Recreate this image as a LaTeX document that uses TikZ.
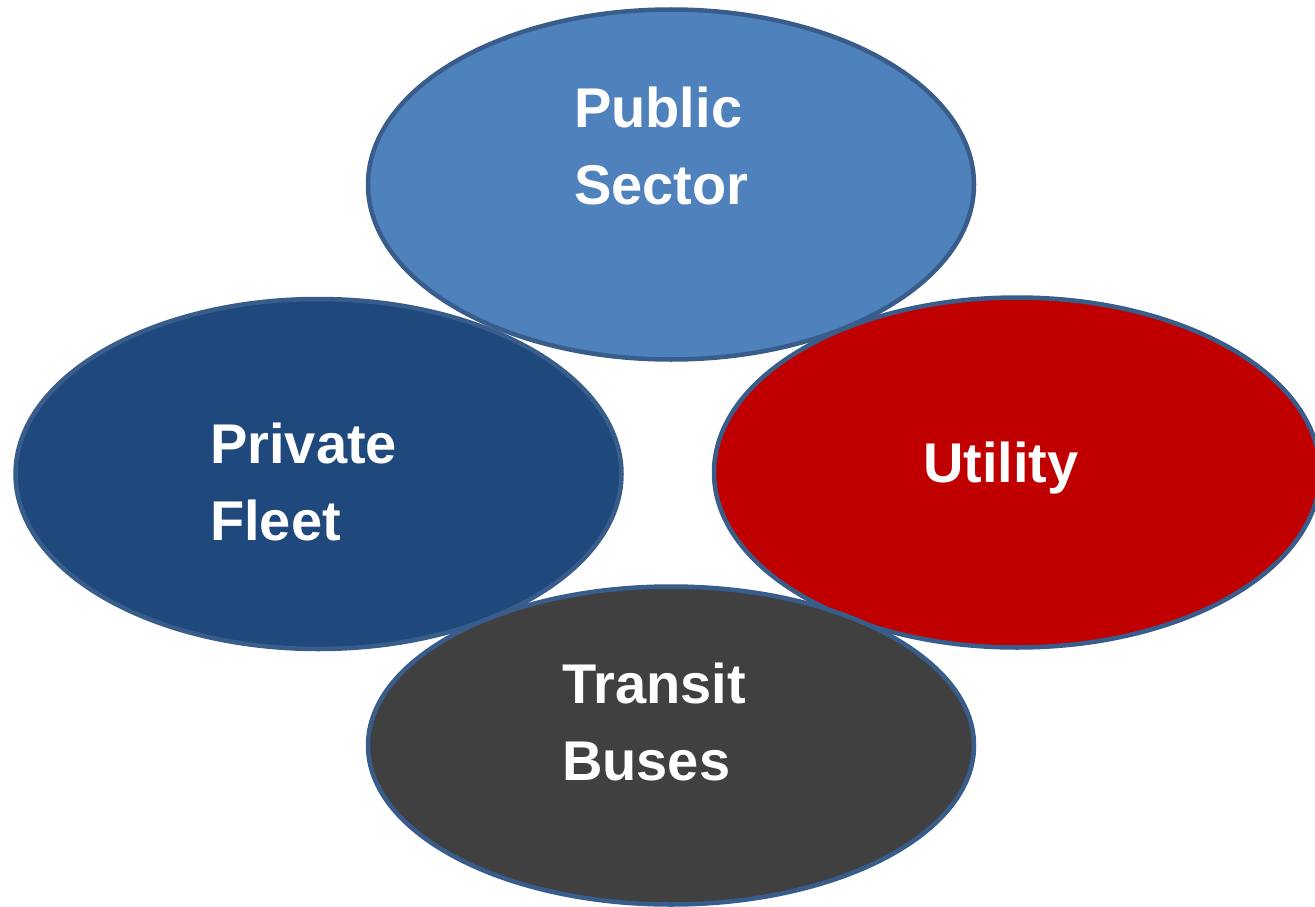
\documentclass[tikz,border=0pt]{standalone}
\usepackage{fontspec}
\setmainfont{Liberation Sans}
\usetikzlibrary{shapes.geometric}
\definecolor{pubblue}{HTML}{4F81BD}
\definecolor{privblue}{HTML}{1F497D}
\definecolor{utilred}{HTML}{C00000}
\definecolor{busgrey}{HTML}{404040}
\definecolor{rimblue}{HTML}{385D8A}
\tikzset{
  blob/.style={ellipse, draw=rimblue, line width=4.5pt, inner sep=0pt},
  lbl/.style={anchor=north west, inner sep=0pt, align=left, text=white,
    font=\bfseries\fontsize{56}{77}\selectfont}
}
\begin{document}
\begin{tikzpicture}[x=1pt,y=-1pt]
  \useasboundingbox (0,0) rectangle (1315,907);
  % back row of ovals
  \node[blob, fill=privblue, minimum width=606pt, minimum height=350pt] (fleet) at (318.5,474) {};
  \node[blob, fill=utilred, minimum width=606pt, minimum height=350pt] (util) at (1017,472.5) {};
  % front ovals overlapping them
  \node[blob, fill=pubblue, minimum width=606pt, minimum height=350pt] (pub) at (671,184.5) {};
  \node[blob, fill=busgrey, minimum width=606pt, minimum height=318pt] (bus) at (671,745.5) {};
  % labels
  \node[lbl] (pubtxt) at (574,87) {Public\\Sector};
  \node[lbl] (fleettxt) at (210,423) {Private\\Fleet};
  \node[lbl] (utiltxt) at (923,442) {Utility};
  \node[lbl] (bustxt) at (562,663) {Transit\\Buses};
\end{tikzpicture}
\end{document}
